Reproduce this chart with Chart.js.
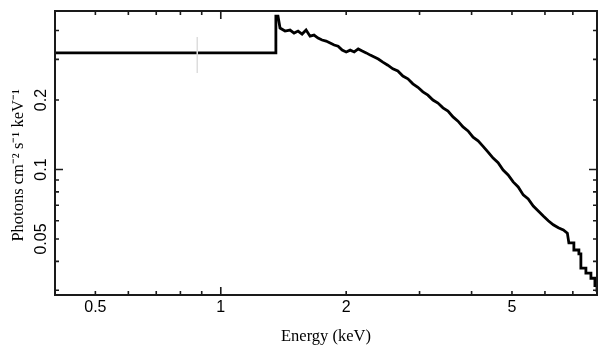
<!DOCTYPE html>
<html>
<head>
<meta charset="utf-8">
<script src="https://cdn.jsdelivr.net/npm/chart.js@4/dist/chart.umd.min.js"></script>
<style>
  html, body { margin: 0; padding: 0; background: #ffffff; }
  #wrap { width: 609px; height: 357px; }
</style>
</head>
<body>
<div id="wrap"><canvas id="c" width="609" height="357"></canvas></div>
<script>
// ---- data ----
// lower edge of each energy bin (keV); the last entry is the upper edge of the spectrum
const binStartEnergy = [0.4, 1.356, 1.372, 1.403, 1.450, 1.483, 1.516, 1.550, 1.585, 1.620, 1.656, 1.693, 1.731, 1.770, 1.810, 1.851, 1.892, 1.934, 1.978, 2.022, 2.068, 2.114, 2.161, 2.210, 2.259, 2.310, 2.362, 2.415, 2.483, 2.553, 2.624, 2.698, 2.774, 2.852, 2.932, 3.014, 3.099, 3.186, 3.276, 3.368, 3.462, 3.560, 3.660, 3.762, 3.868, 3.977, 4.089, 4.204, 4.322, 4.443, 4.568, 4.696, 4.828, 4.964, 5.104, 5.248, 5.395, 5.547, 5.703, 5.863, 6.028, 6.197, 6.371, 6.551, 6.735, 6.848, 7.040, 7.238, 7.318, 7.524, 7.736, 7.909, 8.0];
// photons cm^-2 s^-1 keV^-1 in each bin (last value = level at the upper edge)
const photonFlux = [0.320, 0.462, 0.410, 0.398, 0.402, 0.390, 0.398, 0.386, 0.402, 0.378, 0.382, 0.371, 0.364, 0.360, 0.353, 0.346, 0.342, 0.329, 0.323, 0.329, 0.323, 0.333, 0.326, 0.320, 0.313, 0.307, 0.301, 0.292, 0.283, 0.273, 0.267, 0.254, 0.247, 0.235, 0.227, 0.217, 0.210, 0.200, 0.194, 0.185, 0.179, 0.169, 0.162, 0.153, 0.147, 0.138, 0.133, 0.126, 0.119, 0.112, 0.107, 0.0995, 0.0947, 0.0884, 0.0840, 0.0776, 0.0745, 0.0695, 0.0661, 0.0629, 0.0600, 0.0576, 0.0559, 0.0547, 0.0530, 0.0481, 0.0448, 0.0431, 0.0374, 0.0356, 0.0338, 0.0314, 0.0295];
const errorBarEnergy = [0.878, 0.878];
const errorBarFlux = [0.262, 0.375];

const xTickLabels = [0.5, 1, 2, 5];
const xMinorTicks = [0.6, 0.7, 0.8, 0.9, 3, 4, 6, 7];
const xDecadeTicks = [1];
const yTickLabels = [0.05, 0.1, 0.2];
const yMinorTicks = [0.03, 0.04, 0.06, 0.07, 0.08, 0.09, 0.3, 0.4];
const yDecadeTicks = [0.1];

const xTitle = 'Energy (keV)';
const yTitle = 'Photons cm\u207B\u00B2 s\u207B\u00B9 keV\u207B\u00B9';

// finely binned range: drawn through bin centres; wider bins outside drawn as histogram steps
const fineFrom = 1.372, fineTo = 6.848;

const spectrum = [];
for (let i = 0; i < binStartEnergy.length - 1; i++) {
  const e0 = binStartEnergy[i], e1 = binStartEnergy[i + 1], f = photonFlux[i];
  if (e0 >= fineFrom && e0 < fineTo) {
    spectrum.push({ x: Math.sqrt(e0 * e1), y: f });
  } else {
    spectrum.push({ x: e0, y: f });
    spectrum.push({ x: e1, y: f });
  }
}
spectrum.push({ x: binStartEnergy[binStartEnergy.length - 1], y: photonFlux[photonFlux.length - 1] });

const errBar = errorBarEnergy.map((e, i) => ({ x: e, y: errorBarFlux[i] }));

const frameTicks = {
  id: 'frameTicks',
  afterDatasetsDraw(chart) {
    const { ctx, chartArea: a, scales: { x, y } } = chart;
    ctx.save();
    ctx.strokeStyle = '#1a1a1a';
    ctx.lineWidth = 1.6;
    ctx.beginPath();
    xTickLabels.concat(xMinorTicks).forEach(v => {
      const p = x.getPixelForValue(v);
      const len = xDecadeTicks.includes(v) ? 8 : 4;
      ctx.moveTo(p, a.bottom); ctx.lineTo(p, a.bottom - len);
      ctx.moveTo(p, a.top); ctx.lineTo(p, a.top + len);
    });
    yTickLabels.concat(yMinorTicks).forEach(v => {
      const p = y.getPixelForValue(v);
      const len = yDecadeTicks.includes(v) ? 8 : 4;
      ctx.moveTo(a.left, p); ctx.lineTo(a.left + len, p);
      ctx.moveTo(a.right, p); ctx.lineTo(a.right - len, p);
    });
    ctx.stroke();
    ctx.lineWidth = 2;
    ctx.strokeRect(a.left, a.top, a.right - a.left, a.bottom - a.top);
    ctx.restore();
  }
};

new Chart(document.getElementById('c'), {
  type: 'line',
  data: {
    datasets: [
      {
        data: errBar,
        borderColor: '#dddddd',
        borderWidth: 1.5,
        pointRadius: 0,
        fill: false
      },
      {
        data: spectrum,
        borderColor: '#000000',
        borderWidth: 2.8,
        borderJoinStyle: 'miter',
        tension: 0,
        pointRadius: 0,
        fill: false
      }
    ]
  },
  options: {
    responsive: false,
    animation: false,
    devicePixelRatio: 1,
    layout: { padding: { left: 0, right: 12, top: 11, bottom: 0 } },
    plugins: { legend: { display: false }, tooltip: { enabled: false } },
    scales: {
      x: {
        type: 'logarithmic',
        min: 0.4,
        max: 8,
        afterBuildTicks: s => { s.ticks = xTickLabels.map(v => ({ value: v })); },
        afterFit: s => { s.height = 62; },
        grid: { display: false, drawTicks: false },
        border: { display: false },
        ticks: {
          padding: 3,
          color: '#000',
          font: { family: 'Liberation Sans, Arial, sans-serif', size: 16 },
          callback: v => String(v),
          maxRotation: 0, minRotation: 0, autoSkip: false
        },
        title: {
          display: true,
          text: xTitle,
          color: '#000',
          font: { family: 'Liberation Serif, Times New Roman, serif', size: 16.5 },
          padding: { top: 0, bottom: 10 }
        }
      },
      y: {
        type: 'logarithmic',
        min: 0.0286,
        max: 0.486,
        afterBuildTicks: s => { s.ticks = yTickLabels.map(v => ({ value: v })); },
        afterFit: s => { s.width = 55; },
        grid: { display: false, drawTicks: false },
        border: { display: false },
        ticks: {
          padding: -2,
          crossAlign: 'center',
          minRotation: 90, maxRotation: 90,
          color: '#000',
          font: { family: 'Liberation Sans, Arial, sans-serif', size: 16 },
          callback: v => String(v),
          autoSkip: false
        },
        title: {
          display: true,
          text: yTitle + '\u00A0\u00A0\u00A0\u00A0\u00A0\u00A0',
          color: '#000',
          font: { family: 'Liberation Serif, Times New Roman, serif', size: 16.5 },
          padding: { top: 9, bottom: 0 }
        }
      }
    }
  },
  plugins: [frameTicks]
});
</script>
</body>
</html>
